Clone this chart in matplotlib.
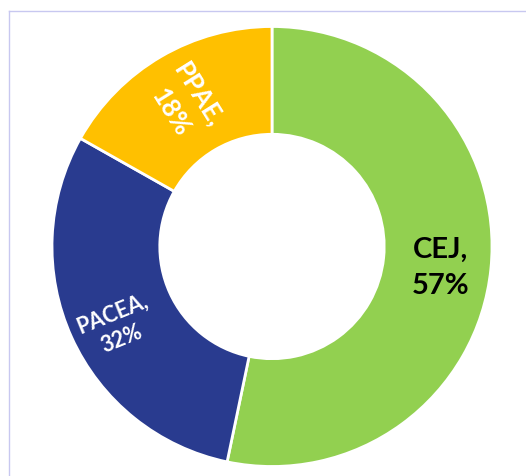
import numpy as np
import matplotlib.pyplot as plt
from matplotlib.lines import Line2D

# Share of each body (values as printed on the chart)
labels = ['CEJ', 'PACEA', 'PPAE']
values = [57, 32, 18]
colors = ['#92D050', '#293B8F', '#FFC000']
text_colors = ['black', 'white', 'white']

W, H = 526, 477
fig = plt.figure(figsize=(W / 100, H / 100), dpi=100)
fig.patch.set_facecolor('white')

# axes box = outer ring of the donut, in pixels
cx, cy, R = 272, 247.5, 220
ax = fig.add_axes([(cx - R) / W, (H - cy - R) / H, 2 * R / W, 2 * R / H])

wedges, _ = ax.pie(values, colors=colors, startangle=90, counterclock=False,
                   radius=1.0,
                   wedgeprops=dict(width=0.49, edgecolor='white', linewidth=2))
ax.set_xlim(-1, 1)
ax.set_ylim(-1, 1)
ax.set_aspect('equal')
ax.axis('off')

# label placement: (radius, angle offset, rotation, font size, line spacing)
label_cfg = [(0.77, -1, 0, 21, 1.5), (0.79, 2.5, 22, 15.5, 1.35),
             (0.765, 1, -58, 18.5, 1.45)]
for w, lab, val, tc, (r, off, rot, fs, ls) in zip(wedges, labels, values,
                                                  text_colors, label_cfg):
    ang = np.deg2rad((w.theta1 + w.theta2) / 2 + off)
    ax.text(r * np.cos(ang), r * np.sin(ang), f'{lab},\n{val}%',
            ha='center', va='center', rotation=rot, rotation_mode='anchor',
            color=tc, fontsize=fs, fontweight='bold', family='Lato',
            linespacing=ls)

# thin frame lines at left and top
fig.add_artist(Line2D([8.5 / W, 8.5 / W], [0, 1 - 11.5 / H],
                      transform=fig.transFigure, color='#C8C8F0', lw=1))
fig.add_artist(Line2D([8.5 / W, 1], [1 - 11.5 / H, 1 - 11.5 / H],
                      transform=fig.transFigure, color='#C8C8F0', lw=1))

fig.savefig('out.png', dpi=100)
